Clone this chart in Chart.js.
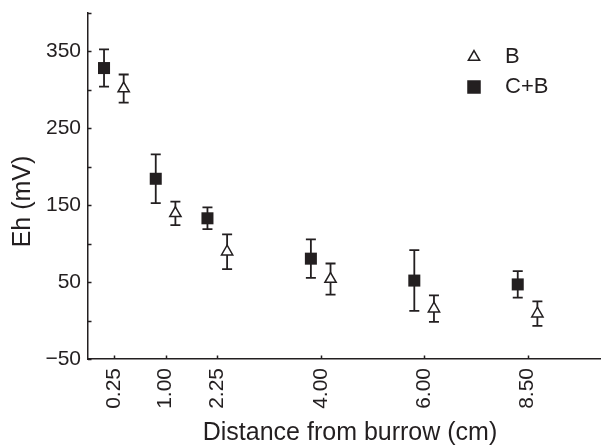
<!DOCTYPE html>
<html>
<head>
<meta charset="utf-8">
<script src="https://cdn.jsdelivr.net/npm/chart.js@4.4.0/dist/chart.umd.min.js"></script>
<style>
    html, body { margin: 0; padding: 0; background: #fff; overflow: hidden; }
    #wrap { width: 601px; height: 448px; }
</style>
</head>
<body>
<div id="wrap"><canvas id="ehChart"></canvas></div>
<script>
// Distances from the burrow (tick labels) and where they sit on the axis
const distances = ['0.25', '1.00', '2.25', '4.00', '6.00', '8.50'];
const slots = [1, 2, 3, 5, 7, 9];

// Eh (mV), mean and error, per treatment
const ehB = [301.7, 139.4, 89.5, 53.9, 15.5, 9];
const errB = [18.3, 15.4, 22.5, 20.3, 17.2, 16];
const ehCB = [328.4, 184.4, 133, 80.5, 52, 47];
const errCB = [24.2, 31.8, 14.1, 25, 39.5, 17.3];

const yLabels = [-50, 50, 150, 250, 350];
const yMarks = [-50, 0, 50, 100, 150, 200, 250, 300, 350, 400];

const INK = '#231f20';
const FONT = "'Liberation Sans', Arial, Helvetica, sans-serif";
const SHIFT = 0.19; // side-by-side offset of the two treatments

function toPoints(values, dx) {
    return values.map((v, i) => ({ x: slots[i] + dx, y: v }));
}

// no extra room around the scales, the layout is fixed by hand
function noPadding(scale) {
    scale.paddingTop = 0;
    scale.paddingBottom = 0;
    scale.paddingLeft = 0;
    scale.paddingRight = 0;
}

/**
 * Error bars with caps, drawn under the markers
 */
const errorBars = {
    id: 'errorBars',
    beforeDatasetsDraw(chart) {
        const ctx = chart.ctx;
        const yScale = chart.scales.y;
        ctx.save();
        ctx.strokeStyle = INK;
        ctx.lineWidth = 1.8;
        chart.data.datasets.forEach((ds, di) => {
            const meta = chart.getDatasetMeta(di);
            meta.data.forEach((pt, i) => {
                const v = ds.data[i].y;
                const top = yScale.getPixelForValue(v + ds.errors[i]);
                const bottom = yScale.getPixelForValue(v - ds.errors[i]);
                ctx.beginPath();
                ctx.moveTo(pt.x, top);
                ctx.lineTo(pt.x, bottom);
                ctx.moveTo(pt.x - 5, top);
                ctx.lineTo(pt.x + 5, top);
                ctx.moveTo(pt.x - 5, bottom);
                ctx.lineTo(pt.x + 5, bottom);
                ctx.stroke();
            });
        });
        ctx.restore();
    }
};

/**
 * Inward tick marks, axis titles and the legend
 */
const decorations = {
    id: 'decorations',
    afterDraw(chart) {
        const ctx = chart.ctx;
        const area = chart.chartArea;
        const xScale = chart.scales.x;
        const yScale = chart.scales.y;
        ctx.save();
        ctx.strokeStyle = INK;
        ctx.lineWidth = 1.5;
        ctx.beginPath();
        yMarks.forEach(v => {
            const py = Math.round(yScale.getPixelForValue(v)) + 0.5;
            ctx.moveTo(area.left, py);
            ctx.lineTo(area.left + 3.5, py);
        });
        slots.forEach(v => {
            const px = Math.round(xScale.getPixelForValue(v)) + 0.5;
            ctx.moveTo(px, area.bottom);
            ctx.lineTo(px, area.bottom - 3.5);
        });
        ctx.stroke();

        // axis titles
        ctx.fillStyle = INK;
        ctx.font = '25px ' + FONT;
        ctx.textAlign = 'center';
        ctx.textBaseline = 'middle';
        ctx.fillText('Distance from burrow (cm)', 350, 433);
        ctx.save();
        ctx.translate(23, 201.5);
        ctx.rotate(-Math.PI / 2);
        ctx.fillText('Eh (mV)', 0, 0);
        ctx.restore();

        // legend
        ctx.font = '22px ' + FONT;
        ctx.textAlign = 'left';
        chart.data.datasets.forEach((ds, i) => {
            const ly = 57 + i * 30;
            ctx.fillStyle = ds.backgroundColor;
            ctx.strokeStyle = ds.borderColor;
            ctx.lineWidth = 1.5;
            Chart.helpers.drawPoint(ctx, {
                pointStyle: ds.pointStyle,
                radius: ds.legendRadius,
                rotation: 0,
                borderWidth: 1.5
            }, 474, ly);
            ctx.fillStyle = INK;
            ctx.fillText(ds.label, 505, ly);
        });
        ctx.restore();
    }
};

const ctx = document.getElementById('ehChart');
new Chart(ctx, {
    type: 'scatter',
    data: {
        datasets: [
            {
                label: 'B',
                data: toPoints(ehB, SHIFT),
                errors: errB,
                pointStyle: 'triangle',
                pointRadius: 6.5,
                legendRadius: 6.5,
                backgroundColor: '#ffffff',
                borderColor: INK,
                borderWidth: 1.5
            },
            {
                label: 'C+B',
                data: toPoints(ehCB, -SHIFT),
                errors: errCB,
                pointStyle: 'rect',
                pointRadius: 8.5,
                legendRadius: 8.5,
                backgroundColor: INK,
                borderColor: INK,
                borderWidth: 0
            }
        ]
    },
    options: {
        responsive: true,
        maintainAspectRatio: false,
        animation: false,
        layout: {
            autoPadding: false,
            padding: { top: 13, right: 0, bottom: 0, left: 0 }
        },
        plugins: {
            legend: { display: false },
            tooltip: { enabled: false }
        },
        scales: {
            x: {
                type: 'linear',
                min: 0.5,
                max: 10.42,
                afterBuildTicks: scale => {
                    scale.ticks = slots.map(v => ({ value: v }));
                },
                afterFit: scale => {
                    scale.height = 89;
                    noPadding(scale);
                },
                grid: { display: false, drawTicks: false },
                border: { display: true, color: INK, width: 1.5 },
                ticks: {
                    color: INK,
                    font: { family: FONT, size: 21 },
                    minRotation: 90,
                    maxRotation: 90,
                    padding: 9,
                    callback: (value, index) => distances[index]
                }
            },
            y: {
                min: -50,
                max: 400,
                afterBuildTicks: scale => {
                    scale.ticks = yLabels.map(v => ({ value: v }));
                },
                afterFit: scale => {
                    scale.width = 88;
                    noPadding(scale);
                },
                grid: { display: false, drawTicks: false },
                border: { display: true, color: INK, width: 1.5 },
                ticks: {
                    color: INK,
                    font: { family: FONT, size: 21 },
                    padding: 7,
                    callback: v => (v < 0 ? '\u2212' + Math.abs(v) : String(v))
                }
            }
        }
    },
    plugins: [errorBars, decorations]
});
</script>
</body>
</html>
